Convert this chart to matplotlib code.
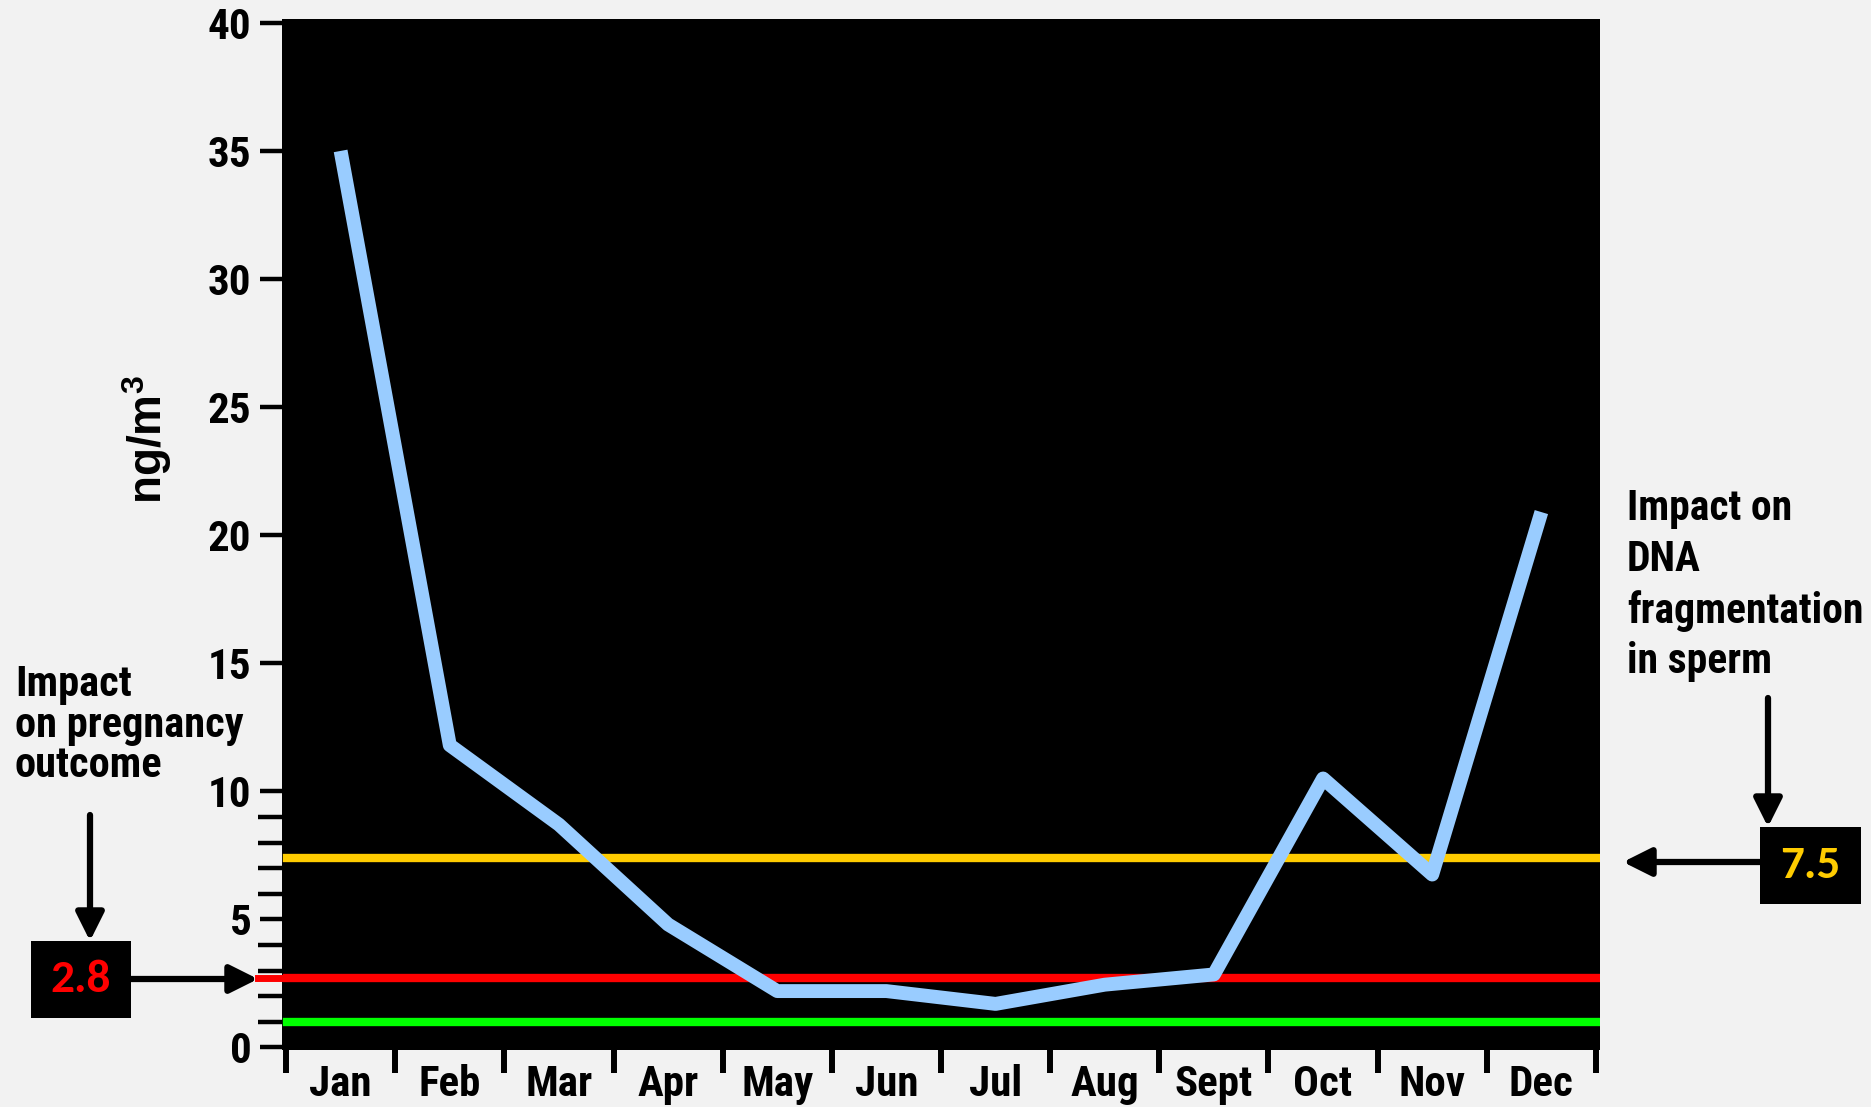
import os
import matplotlib
matplotlib.use("Agg")
import matplotlib.pyplot as plt
from matplotlib.patches import Rectangle, FancyArrowPatch
from matplotlib.transforms import blended_transform_factory
from matplotlib import font_manager as fm
import matplotlib.ticker as mticker

# ---------------- data ----------------
months = ["Jan", "Feb", "Mar", "Apr", "May", "Jun", "Jul", "Aug", "Sept", "Oct", "Nov", "Dec"]
values = [35.0, 11.8, 8.7, 4.8, 2.2, 2.2, 1.7, 2.45, 2.85, 10.5, 6.75, 20.9]
yticks_major = [0, 5, 10, 15, 20, 25, 30, 35, 40]
yticks_minor = [1, 2, 3, 4, 6, 7, 8, 9]
line_dna = 7.4       # yellow threshold line
line_preg = 2.7      # red threshold line
line_green = 1.0     # green line
label_dna = "7.5"
label_preg = "2.8"
text_left = ["Impact", "on pregnancy", "outcome"]
text_right = ["Impact on", "DNA", "fragmentation", "in sperm"]
ylabel = r"ng/m$^{\mathbf{3}}$"

# ---------------- fonts ----------------
def pick_font(patterns, fallback_family, weight="bold"):
    files = [f.fname for f in fm.fontManager.ttflist]
    for pat in patterns:
        for fn in files:
            base = os.path.basename(fn).lower().replace("_", "").replace(" ", "")
            if all(p in base for p in pat):
                return fm.FontProperties(fname=fn)
    return fm.FontProperties(family=fallback_family, weight=weight)

narrow_patterns = [
    ("liberationsansnarrow-bold.",),
    ("arialnarrow", "bold"),
    ("robotocondensed-bold.",),
    ("notosans-condensedbold.",),
    ("dejavusanscondensed-bold.",),
    ("opensans", "condensed", "bold"),
]
FP_NARROW = pick_font(narrow_patterns, ["Roboto", "DejaVu Sans"])
FP_BOX = pick_font([("carlito-bold.",), ("calibrib.",)], ["Lato", "Open Sans", "DejaVu Sans"])

# ---------------- figure ----------------
W, H = 1871, 1107
DPI = 100
BG = "#F2F2F2"

plt.rcParams["mathtext.fontset"] = "custom"
plt.rcParams["mathtext.rm"] = "Liberation Sans:bold"
plt.rcParams["mathtext.bf"] = "Liberation Sans:bold"

fig = plt.figure(figsize=(W / DPI, H / DPI), dpi=DPI, facecolor=BG)

def fx(px):
    return px / W

def fy(py):
    return 1 - py / H

ax_l, ax_r, ax_t, ax_b = 282, 1600, 19, 1050
ax = fig.add_axes([fx(ax_l), fy(ax_b), fx(ax_r - ax_l), (ax_b - ax_t) / H])
ax.set_facecolor("black")
for s in ax.spines.values():
    s.set_visible(False)

x = list(range(len(months)))
ax.set_xlim(-0.537, 11.537)
ax.set_ylim(-0.1, 40.15)

# threshold lines
ax.axhline(line_dna, xmin=0.004, xmax=0.998, color="#FFCC00", lw=6, zorder=2)
ax.axhline(line_preg, xmin=0.004, xmax=0.998, color="#FF0000", lw=6, zorder=2)
ax.axhline(line_green, xmin=0.004, xmax=0.998, color="#00FF00", lw=6, zorder=2)

# data line
ax.plot(x, values, color="#99CCFF", lw=10, solid_capstyle="butt",
        solid_joinstyle="round", zorder=3)

# y ticks
ax.yaxis.set_major_locator(mticker.FixedLocator(yticks_major))
ax.yaxis.set_minor_locator(mticker.FixedLocator(yticks_minor))
ax.yaxis.set_major_formatter(mticker.FixedFormatter([str(v) for v in yticks_major]))
ax.tick_params(axis="y", which="major", direction="out", length=16, width=3.2,
               color="black", pad=6)
ax.tick_params(axis="y", which="minor", direction="out", length=17, width=3.2,
               color="black")
for lab in ax.get_yticklabels():
    lab.set_fontproperties(FP_NARROW)
    lab.set_fontsize(31)

# x ticks: boundaries as major ticks, month labels at minor positions
ax.xaxis.set_major_locator(mticker.FixedLocator([i - 0.5 for i in range(13)]))
ax.xaxis.set_major_formatter(mticker.NullFormatter())
ax.xaxis.set_minor_locator(mticker.FixedLocator(x))
ax.xaxis.set_minor_formatter(mticker.FixedFormatter(months))
ax.tick_params(axis="x", which="major", direction="out", length=16.5, width=4.3,
               color="black")
ax.tick_params(axis="x", which="minor", length=0, pad=10)
for lab in ax.xaxis.get_minorticklabels():
    lab.set_fontproperties(FP_NARROW)
    lab.set_fontsize(31)

# y label
fig.text(fx(147), fy(440), ylabel, rotation=90, ha="center", va="center",
         fontsize=33, fontweight="bold", family=["Liberation Sans", "DejaVu Sans"])

# red stub outside the axes
trans = blended_transform_factory(fig.transFigure, ax.transData)
ax.plot([fx(258), fx(284)], [line_preg, line_preg], color="#FF0000", lw=5,
        transform=trans, clip_on=False, zorder=5)

# ---------------- annotations ----------------
def arrow(x0, y0, x1, y1):
    fig.add_artist(FancyArrowPatch(
        (fx(x0), fy(y0)), (fx(x1), fy(y1)), transform=fig.transFigure,
        arrowstyle="-|>,head_length=1.0,head_width=0.5", mutation_scale=17,
        lw=4.5, color="black", shrinkA=0, shrinkB=0))

def box(x0, y0, x1, y1, txt, color):
    fig.add_artist(Rectangle((fx(x0), fy(y1)), fx(x1 - x0), (y1 - y0) / H,
                             transform=fig.transFigure, facecolor="black",
                             edgecolor="none"))
    t = fig.text(fx((x0 + x1) / 2), fy((y0 + y1) / 2), txt, ha="center", va="center",
                 color=color)
    t.set_fontproperties(FP_BOX)
    t.set_fontsize(34)
    t.set_fontweight("bold")

def text_lines(x0, y0, pitch, lines, size):
    for i, line in enumerate(lines):
        t = fig.text(fx(x0), fy(y0 + i * pitch), line, ha="left", va="top")
        t.set_fontproperties(FP_NARROW)
        t.set_fontsize(size)

# left annotation
text_lines(15, 664, 40.6, text_left, 30.5)
arrow(90, 815, 90, 941)
box(31, 941, 131, 1018, label_preg, "#FF0000")
arrow(131, 979, 258, 979)

# right annotation
text_lines(1627, 488, 51, text_right, 30)
arrow(1768, 698, 1768, 827)
box(1760, 827, 1861, 904, label_dna, "#FFCC00")
arrow(1760, 862, 1623, 862)

fig.savefig("out.png", dpi=DPI, facecolor=BG)
